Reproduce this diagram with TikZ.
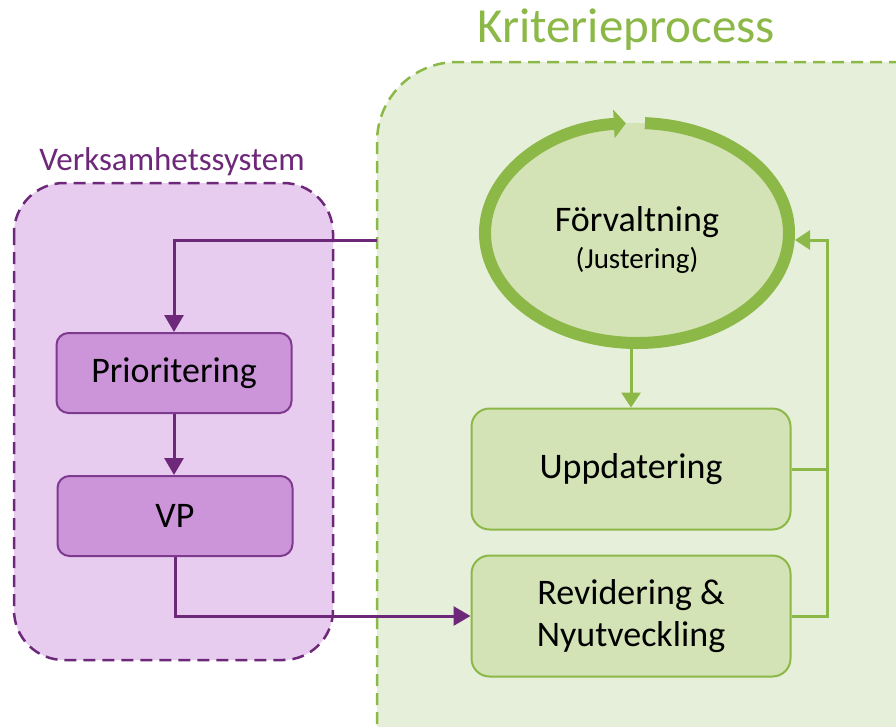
\documentclass[tikz,border=0pt]{standalone}
\usepackage{fontspec}
\setmainfont{Carlito}
\usepackage{tikz}
\usetikzlibrary{arrows.meta,shapes.geometric}

\definecolor{grbg}{RGB}{230,239,217}
\definecolor{grline}{RGB}{140,184,72}
\definecolor{grbox}{RGB}{211,227,182}
\definecolor{prbg}{RGB}{232,204,239}
\definecolor{prline}{RGB}{110,40,122}
\definecolor{prbox}{RGB}{205,149,217}
\definecolor{prboxline}{RGB}{126,58,142}

\newcommand{\txt}[1]{\fontsize{#1}{1.2\dimexpr#1pt\relax}\selectfont}

\begin{document}
\begin{tikzpicture}[x=1pt,y=-1pt,
		region/.style={line width=2.5pt,dash pattern=on 12pt off 7pt},
		pbox/.style={draw=prboxline,fill=prbox,line width=2pt,rounded corners=12pt,
			minimum width=235pt,minimum height=80pt,inner sep=0pt,font=\txt{36}},
		gbox/.style={draw=grline,fill=grbox,line width=2pt,rounded corners=18pt,
			minimum width=319pt,minimum height=121pt,inner sep=0pt,align=center,font=\txt{36}},
		parrow/.style={draw=prline,line width=3pt,-{Triangle[length=17pt,width=19pt]}},
		garrow/.style={draw=grline,line width=3pt,-{Triangle[length=15pt,width=19pt]}}]
					% Define the canvas
					\clip (0,0) rectangle (896,726);
					\fill[white] (0,0) rectangle (896,726);
					% Regions
					\draw[region,draw=grline,fill=grbg,rounded corners=80pt] (377,62) rectangle (990,800);
					\draw[region,draw=prline,fill=prbg,rounded corners=50pt] (14,183) rectangle (333,660);
					\node[text=grline,font=\txt{49}] (krit) at (626,30) {Kriterieprocess};
					\node[text=prline,font=\txt{33}] (verk) at (172,162) {Verksamhetssystem};
					% Steps
					\node[pbox] (prio) at (174,373) {Prioritering};
					\node[pbox] (vp) at (175,516) {VP};
					\node[gbox] (upd) at (631,469) {Uppdatering};
					\node[gbox] (rev) at (631,616) {Revidering \&\\[-2pt]Nyutveckling};
					% Cycle
					\node[ellipse,fill=grbox,minimum width=304pt,minimum height=220pt,outer sep=6pt] (forv) at (637,233) {};
					\draw[grline,line width=12pt,-{Triangle[length=12pt,width=28pt]}]
						(637,233) ++(273:152 and 110) arc[start angle=273,end angle=625.8,x radius=152,y radius=110];
					\node[align=center,font=\txt{36}] (forvtxt) at (637,240) {Förvaltning\\[-7pt]{\txt{29}(Justering)}};
					% Connectors
					\coordinate (in) at (377,240);
					\coordinate (bus) at (827,240);
					\draw[parrow] (in) -| (prio.north);
					\draw[parrow] (prio.south) -- (prio.south |- vp.north);
					\draw[parrow] (vp.south) |- (rev.west);
					\draw[garrow] (upd.north |- forv.south) -- (upd.north);
					\draw[grline,line width=3pt] (upd.east) -- (upd.east -| bus);
					\draw[garrow] (rev.east) -| (bus) -- (bus -| forv.east);
\end{tikzpicture}
\end{document}
